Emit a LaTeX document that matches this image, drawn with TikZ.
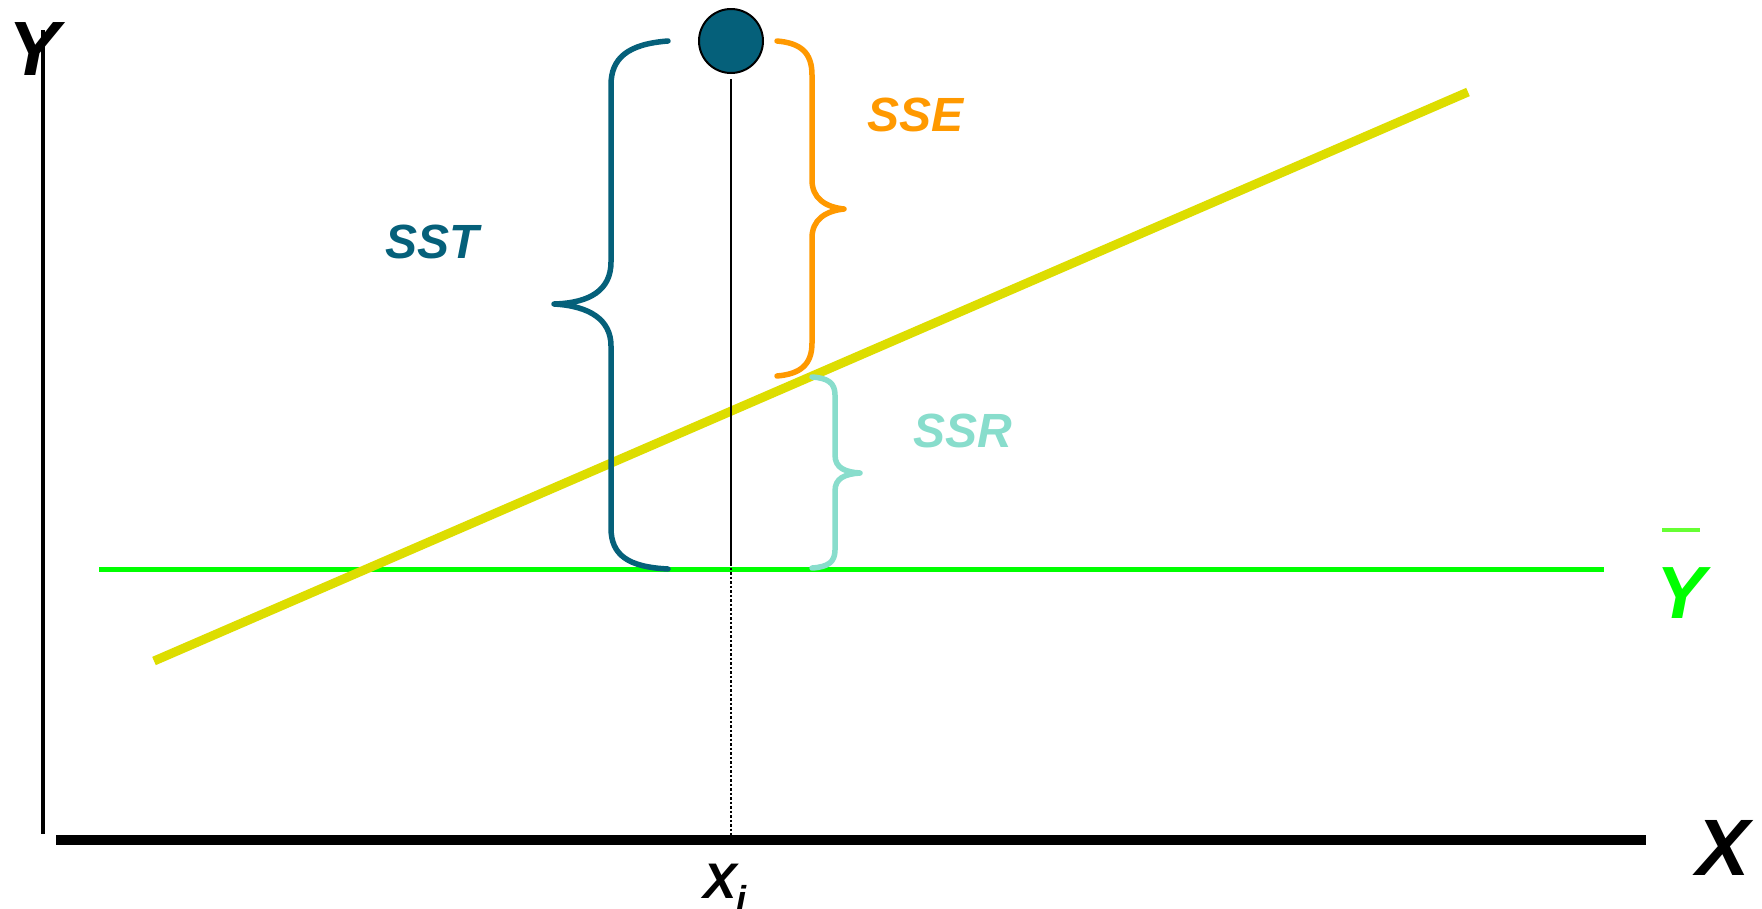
\documentclass[tikz,border=0pt]{standalone}
\usepackage{fontspec}
\setmainfont{Liberation Sans}
\definecolor{teal1}{HTML}{05607A}
\definecolor{orange1}{HTML}{FF9900}
\definecolor{cyan1}{HTML}{88DDCC}
\definecolor{yellow1}{HTML}{DDDD00}
\definecolor{green1}{HTML}{00FF00}
\definecolor{green2}{HTML}{66FF33}
\begin{document}
\begin{tikzpicture}[x=1pt,y=-1pt,
  lbl/.style={inner sep=0pt,anchor=base west,font=\bfseries\itshape},
  brace/.style={line width=5.5pt,line cap=round,line join=round}]
\useasboundingbox[fill=white] (0,0) rectangle (1762,908);
% axes
\coordinate (ytop) at (43,30);
\coordinate (ybot) at (43,834);
\coordinate (xl) at (56,840);
\coordinate (xr) at (1646,840);
\draw[line width=4.5pt] (ytop) -- (ybot);
\draw[line width=10pt] (xl) -- (xr);
% regression line and mean line
\coordinate (r1) at (154,661);
\coordinate (r2) at (1468,92);
\coordinate (m1) at (99,569);
\coordinate (m2) at (1604,569);
\draw[green1,line width=5pt] (m1) -- (m2);
\draw[yellow1,line width=9pt] (r1) -- (r2);
% point and vertical
\node[circle,draw=black,line width=2pt,fill=teal1,minimum size=64pt,inner sep=0pt] (pt) at (731,41) {};
\coordinate (vm) at (731,563);
\coordinate (vb) at (731,836);
\draw[line width=2.5pt] ([yshift=-5pt]pt.south) -- (vm);
\draw[line width=2.5pt,dotted] (vm) -- (vb);
% SST brace
\draw[brace,teal1] (668,41) .. controls (628,44) and (611,58) .. (611,85) -- (611,262)
  .. controls (611,290) and (590,303) .. (554,304)
  .. controls (590,306) and (611,320) .. (611,346) -- (611,528)
  .. controls (611,555) and (628,567) .. (668,569);
% SSE brace
\draw[brace,orange1] (777,41) .. controls (800,43) and (812,52) .. (812,75) -- (812,180)
  .. controls (812,198) and (825,207) .. (844,209)
  .. controls (825,211) and (812,220) .. (812,238) -- (812,343)
  .. controls (812,365) and (800,374) .. (777,376);
% SSR brace
\draw[brace,cyan1] (812,377) .. controls (828,378) and (835,383) .. (835,395) -- (835,455)
  .. controls (835,468) and (845,472) .. (860,473)
  .. controls (845,474) and (835,478) .. (835,491) -- (835,550)
  .. controls (835,562) and (828,567) .. (812,568);
% labels
\node[lbl,teal1,font=\fontsize{48}{48}\selectfont\bfseries\itshape] (sst) at (385,258) {SST};
\node[lbl,orange1,font=\fontsize{48}{48}\selectfont\bfseries\itshape] (sse) at (867,131) {SSE};
\node[lbl,cyan1,font=\fontsize{48}{48}\selectfont\bfseries\itshape] (ssr) at (913,447) {SSR};
\node[lbl,font=\fontsize{77}{77}\selectfont\bfseries\itshape] (ylab) at (8,75) {Y};
\node[lbl,font=\fontsize{80}{80}\selectfont\bfseries\itshape] (xlab) at (1696,875) {X};
\node[lbl,font=\fontsize{50}{50}\selectfont\bfseries\itshape] (xi) at (703,898) {X\raisebox{-13pt}{\fontsize{36}{36}\selectfont i}};
\node[lbl,green1,font=\fontsize{74}{74}\selectfont\bfseries\itshape] (ybar) at (1656,618) {Y};
\draw[green2,line width=4pt] (1662,530) -- (1700,530);
\end{tikzpicture}
\end{document}
